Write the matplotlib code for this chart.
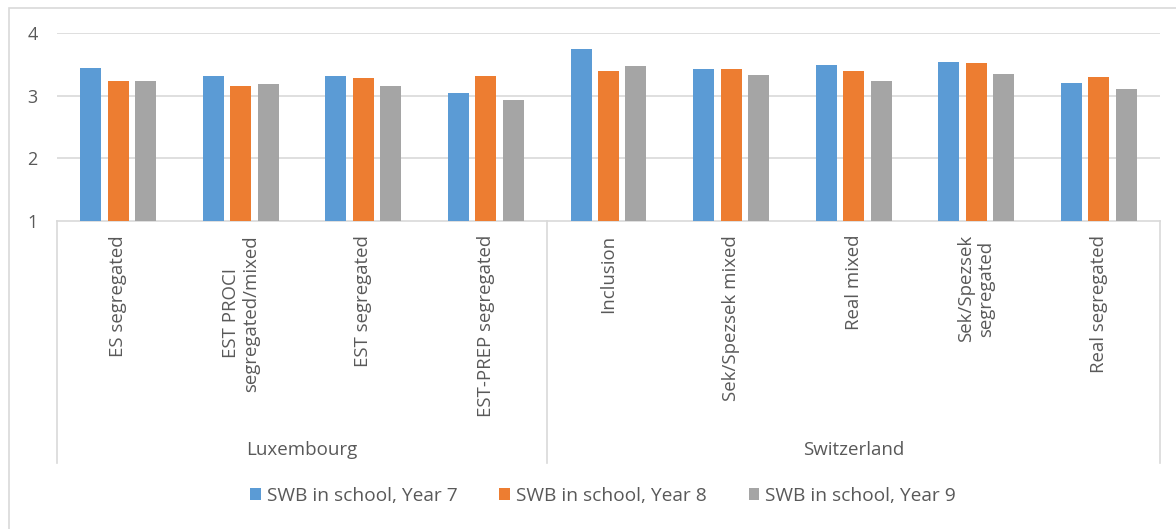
import numpy as np
import matplotlib
matplotlib.use("Agg")
import matplotlib.pyplot as plt
from matplotlib.patches import Rectangle
import matplotlib.transforms as mtransforms

# data
categories = ["ES segregated", "EST PROCI\nsegregated/mixed", "EST segregated",
              "EST-PREP segregated", "Inclusion", "Sek/Spezsek mixed",
              "Real mixed", "Sek/Spezsek\nsegregated", "Real segregated"]
groups = ["Luxembourg", "Switzerland"]
group_sizes = [4, 5]
series = ["SWB in school, Year 7", "SWB in school, Year 8", "SWB in school, Year 9"]
year7 = [3.44, 3.31, 3.31, 3.04, 3.75, 3.42, 3.49, 3.54, 3.20]
year8 = [3.24, 3.15, 3.28, 3.31, 3.40, 3.42, 3.40, 3.52, 3.29]
year9 = [3.24, 3.18, 3.16, 2.93, 3.48, 3.33, 3.24, 3.35, 3.11]
colors = ["#5B9BD5", "#ED7D31", "#A5A5A5"]

plt.rcParams['font.family'] = ['Open Sans', 'DejaVu Sans']
txt = "#595959"
grid = "#D9D9D9"

W, H = 1176, 529
fig = plt.figure(figsize=(W / 100, H / 100), dpi=100)
# outer chart border
fig.patches.append(Rectangle((9 / W, -0.1), 1.1, 1 - 7.6 / H + 0.1, transform=fig.transFigure,
                             fill=False, edgecolor=grid, lw=1.2))

ax = fig.add_axes([57 / W, 1 - 221 / H, (1160 - 57) / W, (221 - 33) / H])
x = np.arange(len(categories))
w = 0.172
step = 0.224
for i, (vals, c, lab) in enumerate(zip([year7, year8, year9], colors, series)):
    ax.bar(x + (i - 1) * step, np.array(vals) - 1, bottom=1, width=w, color=c, label=lab, zorder=3)

ax.set_xlim(-0.5, len(categories) - 0.5)
ax.set_ylim(1, 4)
ax.set_yticks([1, 2, 3, 4])
ax.set_yticklabels(["1", "2", "3", "4"], fontsize=13, color=txt)
for yv in [2, 3, 4]:
    ax.axhline(yv, color=grid, lw=1.2, zorder=1)
for s in ["top", "right", "left"]:
    ax.spines[s].set_visible(False)
ax.spines["bottom"].set_color(grid)
ax.spines["bottom"].set_linewidth(1.2)
ax.tick_params(axis="y", length=0, pad=14)
ax.tick_params(axis="x", length=0, pad=10)
ax.set_xticks(x)
ax.set_xticklabels(categories, rotation=90, fontsize=13.4, color=txt, va="top", ha="center",
                   multialignment="center", linespacing=1.15)

# group level of the category axis
trans = mtransforms.blended_transform_factory(ax.transData, ax.transAxes)
box_bottom = -(463 - 221) / (221 - 33)
lab_y = -(450 - 221) / (221 - 33)
edges = np.concatenate([[0], np.cumsum(group_sizes)]) - 0.5
for e in edges:
    ax.plot([e, e], [0, box_bottom], transform=trans, color=grid, lw=1.2, clip_on=False)
for g, a, b in zip(groups, edges[:-1], edges[1:]):
    ax.text((a + b) / 2, lab_y, g, transform=trans, ha="center", va="center", fontsize=13.5, color=txt)

fig.legend(loc="center", bbox_to_anchor=(603 / W, 1 - 496 / H), ncol=3, frameon=False,
           fontsize=13.8, labelcolor=txt, handlelength=0.55, handleheight=0.55,
           handletextpad=0.3, columnspacing=2.2)

fig.savefig("out.png", dpi=100)
